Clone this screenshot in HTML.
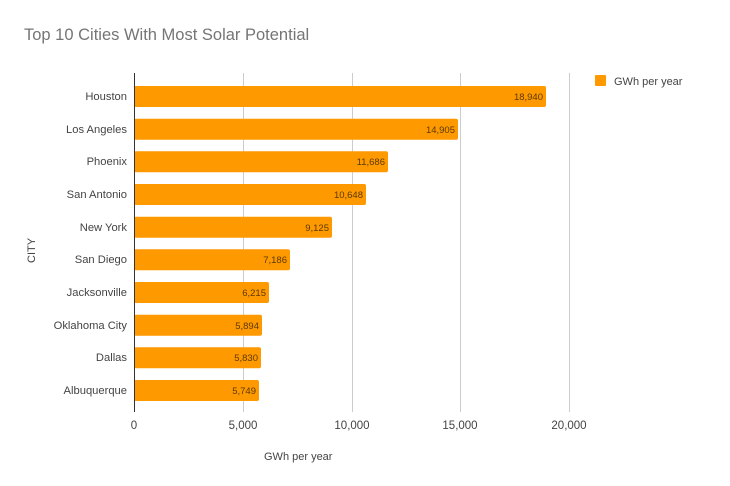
<!DOCTYPE html>
<html><head><style>body{margin:0;background:#fff}svg{display:block}text{font-family:"Liberation Sans",sans-serif}</style></head><body>
<svg width="730" height="486" xmlns="http://www.w3.org/2000/svg">
<rect width="730" height="486" fill="#fff"/>
<text x="24" y="40" font-size="16.5" fill="#757575">Top 10 Cities With Most Solar Potential</text>
<g stroke="#cccccc" stroke-width="1">
<line x1="243.5" y1="73" x2="243.5" y2="412"/>
<line x1="352.5" y1="73" x2="352.5" y2="412"/>
<line x1="460.5" y1="73" x2="460.5" y2="412"/>
<line x1="569.5" y1="73" x2="569.5" y2="412"/>
</g>
<g fill="#ff9900">
<rect x="134" y="86" width="412" height="21" rx="2"/>
<rect x="134" y="118.7" width="324" height="21" rx="2"/>
<rect x="134" y="151.3" width="254" height="21" rx="2"/>
<rect x="134" y="184" width="232" height="21" rx="2"/>
<rect x="134" y="216.7" width="198" height="21" rx="2"/>
<rect x="134" y="249.3" width="156" height="21" rx="2"/>
<rect x="134" y="282" width="135" height="21" rx="2"/>
<rect x="134" y="314.7" width="128" height="21" rx="2"/>
<rect x="134" y="347.3" width="127" height="21" rx="2"/>
<rect x="134" y="380" width="125" height="21" rx="2"/>
</g>
<line x1="134.5" y1="73" x2="134.5" y2="412" stroke="#333" stroke-width="1"/>
<g font-size="9.5" fill="#5a3a00" text-anchor="end">
<text x="543" y="100">18,940</text>
<text x="455" y="133">14,905</text>
<text x="385" y="165">11,686</text>
<text x="363" y="198">10,648</text>
<text x="329" y="231">9,125</text>
<text x="287" y="263">7,186</text>
<text x="266" y="296">6,215</text>
<text x="259" y="329">5,894</text>
<text x="258" y="361">5,830</text>
<text x="256" y="394">5,749</text>
</g>
<g font-size="11.2" fill="#444" text-anchor="end">
<text x="127" y="100">Houston</text>
<text x="127" y="133">Los Angeles</text>
<text x="127" y="165">Phoenix</text>
<text x="127" y="198">San Antonio</text>
<text x="127" y="231">New York</text>
<text x="127" y="263">San Diego</text>
<text x="127" y="296">Jacksonville</text>
<text x="127" y="329">Oklahoma City</text>
<text x="127" y="361">Dallas</text>
<text x="127" y="394">Albuquerque</text>
</g>
<g font-size="11.5" fill="#444" text-anchor="middle">
<text x="134" y="429">0</text>
<text x="243" y="429">5,000</text>
<text x="352" y="429">10,000</text>
<text x="460" y="429">15,000</text>
<text x="569" y="429">20,000</text>
</g>
<text x="264" y="460" font-size="11" fill="#444">GWh per year</text>
<text transform="translate(35,263) rotate(-90)" font-size="11" fill="#444">CITY</text>
<rect x="595" y="75" width="11" height="11" rx="1" fill="#ff9900"/>
<text x="614" y="85" font-size="11" fill="#444">GWh per year</text>
</svg>
</body></html>
